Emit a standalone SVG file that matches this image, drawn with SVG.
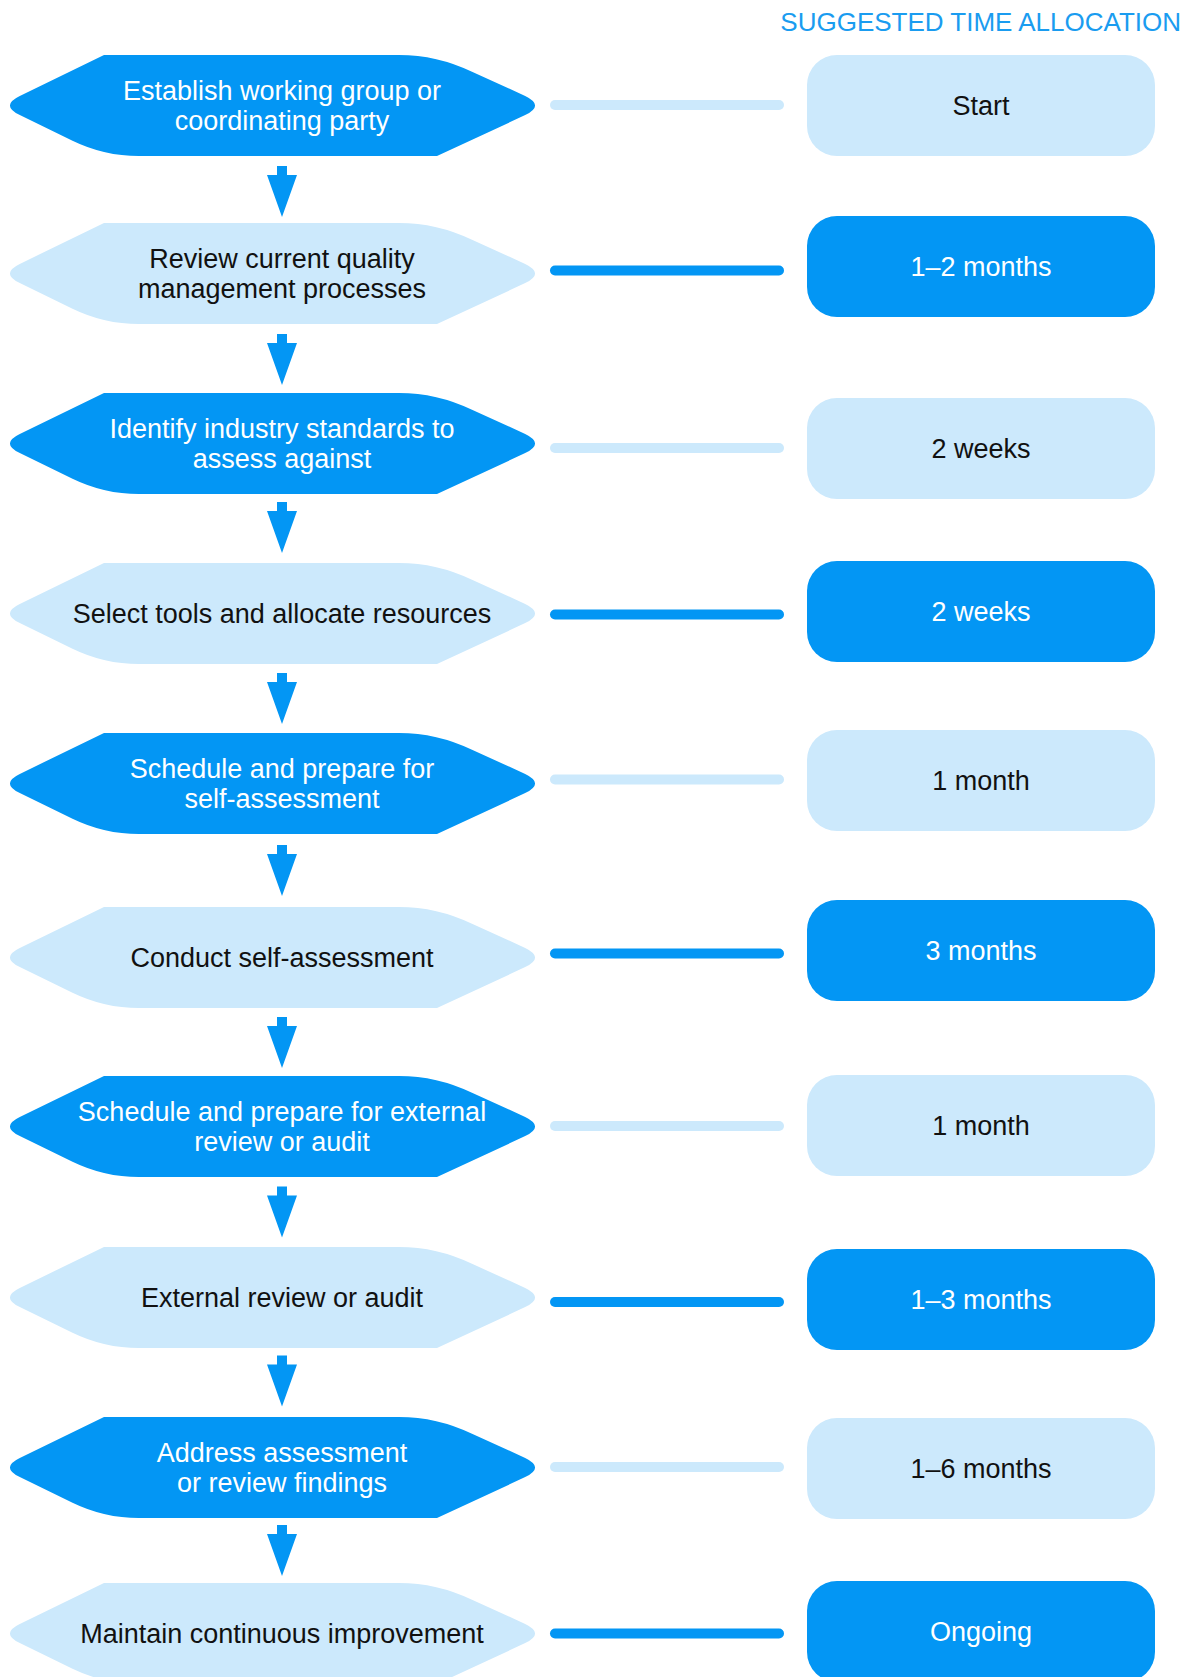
<svg xmlns="http://www.w3.org/2000/svg" xmlns:xlink="http://www.w3.org/1999/xlink" width="1191" height="1677" viewBox="0 0 1191 1677">
<style>
  text { font-family: "Liberation Sans", Arial, sans-serif; font-size: 27px; text-anchor: middle; }
  .dark { fill: #0396F4; }
  .light { fill: #CCE9FC; }
  .tw { fill: #FFFFFF; }
  .tb { fill: #111111; }
  .ldark { stroke: #0396F4; stroke-width: 10; stroke-linecap: round; fill: none; }
  .llight { stroke: #CCE9FC; stroke-width: 10; stroke-linecap: round; fill: none; }
  .arrow { fill: #0396F4; }
  .hdr { fill: #1A9CF0; font-size: 26px; text-anchor: end; }
</style>
<defs>
  <path id="hex" d="M104,0 L399,0 Q437,0 472,16.8 L525.2,40.9 Q545,50.5 525.2,60.1 L437,101 L139,101 Q104,101 72.5,85.7 L19.8,60.1 Q0,50.5 19.8,40.9 Z"/>
  <path id="arr" d="M277,-25.5 L287,-25.5 L287,-16.5 L297,-16.5 L282,25.5 L267,-16.5 L277,-16.5 Z"/>
</defs>
<text class="hdr" x="1181" y="31">SUGGESTED TIME ALLOCATION</text>

<g id="connectors">
  <line class="llight" x1="555" y1="105" x2="779" y2="105"/>
  <line class="ldark" x1="555" y1="270.5" x2="779" y2="270.5"/>
  <line class="llight" x1="555" y1="448" x2="779" y2="448"/>
  <line class="ldark" x1="555" y1="614.5" x2="779" y2="614.5"/>
  <line class="llight" x1="555" y1="779.5" x2="779" y2="779.5"/>
  <line class="ldark" x1="555" y1="953.5" x2="779" y2="953.5"/>
  <line class="llight" x1="555" y1="1126" x2="779" y2="1126"/>
  <line class="ldark" x1="555" y1="1302" x2="779" y2="1302"/>
  <line class="llight" x1="555" y1="1467" x2="779" y2="1467"/>
  <line class="ldark" x1="555" y1="1633.5" x2="779" y2="1633.5"/>
  <use href="#arr" class="arrow" y="191.5"/>
  <use href="#arr" class="arrow" y="359.5"/>
  <use href="#arr" class="arrow" y="527.5"/>
  <use href="#arr" class="arrow" y="698.5"/>
  <use href="#arr" class="arrow" y="870.5"/>
  <use href="#arr" class="arrow" y="1042.5"/>
  <use href="#arr" class="arrow" y="1212"/>
  <use href="#arr" class="arrow" y="1381"/>
  <use href="#arr" class="arrow" y="1550.5"/>
</g>

<g id="step1"><use href="#hex" class="dark" y="55"/>
  <text class="tw" x="282" y="100.3">Establish working group or</text>
  <text class="tw" x="282" y="129.6">coordinating party</text></g>
<g id="step2"><use href="#hex" class="light" y="223"/>
  <text class="tb" x="282" y="268.3">Review current quality</text>
  <text class="tb" x="282" y="297.6">management processes</text></g>
<g id="step3"><use href="#hex" class="dark" y="393"/>
  <text class="tw" x="282" y="438.3">Identify industry standards to</text>
  <text class="tw" x="282" y="467.6">assess against</text></g>
<g id="step4"><use href="#hex" class="light" y="563"/>
  <text class="tb" x="282" y="623">Select tools and allocate resources</text></g>
<g id="step5"><use href="#hex" class="dark" y="733"/>
  <text class="tw" x="282" y="778.3">Schedule and prepare for</text>
  <text class="tw" x="282" y="807.6">self-assessment</text></g>
<g id="step6"><use href="#hex" class="light" y="907"/>
  <text class="tb" x="282" y="967">Conduct self-assessment</text></g>
<g id="step7"><use href="#hex" class="dark" y="1076"/>
  <text class="tw" x="282" y="1121.3">Schedule and prepare for external</text>
  <text class="tw" x="282" y="1150.6">review or audit</text></g>
<g id="step8"><use href="#hex" class="light" y="1247"/>
  <text class="tb" x="282" y="1307">External review or audit</text></g>
<g id="step9"><use href="#hex" class="dark" y="1417"/>
  <text class="tw" x="282" y="1462.3">Address assessment</text>
  <text class="tw" x="282" y="1491.6">or review findings</text></g>
<g id="step10"><use href="#hex" class="light" y="1583"/>
  <text class="tb" x="282" y="1643">Maintain continuous improvement</text></g>

<g id="time1"><rect class="light" x="807" y="55" width="348" height="101" rx="30"/><text class="tb" x="981" y="115">Start</text></g>
<g id="time2"><rect class="dark" x="807" y="216" width="348" height="101" rx="30"/><text class="tw" x="981" y="276">1–2 months</text></g>
<g id="time3"><rect class="light" x="807" y="398" width="348" height="101" rx="30"/><text class="tb" x="981" y="458">2 weeks</text></g>
<g id="time4"><rect class="dark" x="807" y="561" width="348" height="101" rx="30"/><text class="tw" x="981" y="621">2 weeks</text></g>
<g id="time5"><rect class="light" x="807" y="730" width="348" height="101" rx="30"/><text class="tb" x="981" y="790">1 month</text></g>
<g id="time6"><rect class="dark" x="807" y="900" width="348" height="101" rx="30"/><text class="tw" x="981" y="960">3 months</text></g>
<g id="time7"><rect class="light" x="807" y="1075" width="348" height="101" rx="30"/><text class="tb" x="981" y="1135">1 month</text></g>
<g id="time8"><rect class="dark" x="807" y="1249" width="348" height="101" rx="30"/><text class="tw" x="981" y="1309">1–3 months</text></g>
<g id="time9"><rect class="light" x="807" y="1418" width="348" height="101" rx="30"/><text class="tb" x="981" y="1478">1–6 months</text></g>
<g id="time10"><rect class="dark" x="807" y="1581" width="348" height="101" rx="30"/><text class="tw" x="981" y="1641">Ongoing</text></g>
</svg>
